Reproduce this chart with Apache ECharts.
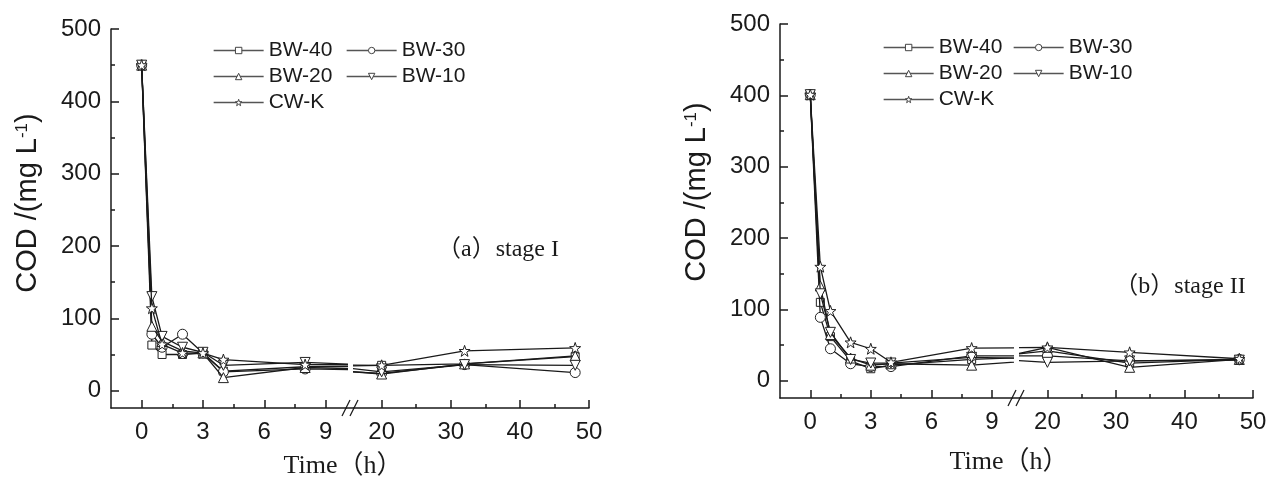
<!DOCTYPE html>
<html><head><meta charset="utf-8">
<script src="https://cdn.jsdelivr.net/npm/echarts@6/dist/echarts.min.js"></script>
<style>html,body{margin:0;padding:0;background:#fff}#c{width:1277px;height:485px}</style>
</head><body><div id="c"></div>
<script>
// ---------- data ----------
const times = [0, 0.5, 1, 2, 3, 4, 8, 20, 32, 48];
const seriesNames = ['BW-40', 'BW-30', 'BW-20', 'BW-10', 'CW-K'];
// stage I
const s1_BW40 = [450, 63, 50, 50, 52, 27, 33, 35, 37, 47];
const s1_BW30 = [450, 78, 60, 78, 52, 26, 30, 24, 36, 25];
const s1_BW20 = [450, 89, 68, 55, 52, 18, 32, 23, 37, 48];
const s1_BW10 = [450, 130, 75, 60, 53, 35, 39, 26, 36, 35];
const s1_CWK  = [450, 114, 64, 52, 52, 43, 36, 35, 55, 59];
// stage II
const s2_BW40 = [401, 110, 62, 28, 17, 22, 30, 42, 25, 30];
const s2_BW30 = [401, 89, 45, 24, 20, 20, 35, 35, 28, 30];
const s2_BW20 = [401, 133, 65, 32, 22, 24, 22, 47, 19, 30];
const s2_BW10 = [401, 122, 68, 30, 25, 25, 33, 26, 28, 29];
const s2_CWK  = [401, 160, 98, 54, 45, 26, 46, 47, 40, 31];
// ticks
const yMajor = [0, 100, 200, 300, 400, 500];
const yMinor = [50, 150, 250, 350, 450];
const xMajorL = [0, 3, 6, 9];
const xMinorL = [1.5, 4.5, 7.5];
const xMajorR = [20, 30, 40, 50];
const xMinorR = [25, 35, 45];

// ---------- layout ----------
const panels = [
  {left: 111, top: 29, bottom: 408, bL: 346, bR: 354, right: 589,
   data: [s1_BW40, s1_BW30, s1_BW20, s1_BW10, s1_CWK],
   ytitle: [28, 203], xtitle: [343, 466], note: [498, 250, '（a）stage I'],
   leg: [[213, 40], [346, 40]]},
  {left: 780, top: 24, bottom: 398, bL: 1012, bR: 1020, right: 1253,
   data: [s2_BW40, s2_BW30, s2_BW20, s2_BW10, s2_CWK],
   ytitle: [697, 192], xtitle: [1009, 462], note: [1180, 287, '（b）stage II'],
   leg: [[883, 37], [1013, 37]]}
];
const INK = '#1a1a1a';
const STAR = 'path://M0,-10 L2.35,-3.24 9.51,-3.09 3.8,1.24 5.88,8.09 0,4 -5.88,8.09 -3.8,1.24 -9.51,-3.09 -2.35,-3.24Z';
const symbols = [
  {symbol: 'rect', size: 8, rot: 0},
  {symbol: 'circle', size: 10, rot: 0},
  {symbol: 'triangle', size: 10, rot: 0},
  {symbol: 'triangle', size: 10, rot: 180},
  {symbol: STAR, size: 11, rot: 0}
];
const YMIN = -24, YMAX = 500;
const axisFont = {fontFamily: '"Liberation Sans", Arial, sans-serif', fontSize: 24, color: INK};

const grids = [], xAxes = [], yAxes = [], series = [], legends = [], graphics = [];

panels.forEach((p, pi) => {
  const h = p.bottom - p.top;
  const parts = [
    {l: p.left, w: p.bL - p.left, min: -1.5, max: 10, maj: xMajorL, min2: xMinorL, showY: true},
    {l: p.bR, w: p.right - p.bR, min: 16, max: 50, maj: xMajorR, min2: xMinorR, showY: false}
  ];
  parts.forEach(part => {
    const g = grids.length;
    grids.push({left: part.l, top: p.top, width: part.w, height: h, outerBoundsMode: 'none', containLabel: false});
    const xi = xAxes.length, yi = yAxes.length;
    xAxes.push({type: 'value', gridIndex: g, min: part.min, max: part.max, position: 'bottom',
      axisLine: {show: true, onZero: false, lineStyle: {color: INK, width: 1.5}},
      axisTick: {show: true, inside: true, length: 8, customValues: part.maj, lineStyle: {color: INK, width: 1.5}},
      axisLabel: {show: true, customValues: part.maj, margin: 12, ...axisFont},
      splitLine: {show: false}});
    xAxes.push({type: 'value', gridIndex: g, min: part.min, max: part.max, position: 'bottom',
      axisLine: {show: false, onZero: false},
      axisTick: {show: true, inside: true, length: 4, customValues: part.min2, lineStyle: {color: INK, width: 1.5}},
      axisLabel: {show: false}, splitLine: {show: false}});
    yAxes.push({type: 'value', gridIndex: g, min: YMIN, max: YMAX, show: part.showY, position: 'left',
      axisLine: {show: true, onZero: false, lineStyle: {color: INK, width: 1.5}},
      axisTick: {show: true, inside: true, length: 8, customValues: yMajor, lineStyle: {color: INK, width: 1.5}},
      axisLabel: {show: true, customValues: yMajor, margin: 10, ...axisFont},
      splitLine: {show: false}});
    yAxes.push({type: 'value', gridIndex: g, min: YMIN, max: YMAX, show: part.showY, position: 'left',
      axisLine: {show: false, onZero: false},
      axisTick: {show: true, inside: true, length: 4, customValues: yMinor, lineStyle: {color: INK, width: 1.5}},
      axisLabel: {show: false}, splitLine: {show: false}});
    seriesNames.forEach((name, si) => {
      const vals = p.data[si];
      series.push({
        name: name, type: 'line', xAxisIndex: xi, yAxisIndex: yi, clip: true,
        data: times.map((t, i) => [t, vals[i]]),
        symbol: symbols[si].symbol, symbolSize: symbols[si].size, symbolRotate: symbols[si].rot,
        showAllSymbol: true,
        lineStyle: {color: INK, width: 1.3},
        itemStyle: {color: '#ffffff', borderColor: '#222', borderWidth: 1},
        emphasis: {disabled: true}, z: 2 + si
      });
    });
  });
  // legends
  const legCols = [['BW-40', 'BW-20', 'CW-K'], ['BW-30', 'BW-10']];
  legCols.forEach((col, ci) => {
    legends.push({orient: 'vertical', left: p.leg[ci][0], top: p.leg[ci][1],
      data: col.map(n => ({name: n, itemStyle: {color: '#fff', borderColor: '#444', borderWidth: 1}})),
      itemWidth: 50, itemHeight: 8, itemGap: 5, padding: 0, selectedMode: false,
      lineStyle: {color: '#555', width: 1.3},
      textStyle: {fontFamily: '"Liberation Sans", Arial, sans-serif', fontSize: 21, color: INK, lineHeight: 21}});
  });
  // axis break
  const y0 = p.bottom, mid = (p.bL + p.bR) / 2;
  graphics.push({type: 'line', shape: {x1: p.bL, y1: y0, x2: p.bR, y2: y0}, style: {stroke: INK, lineWidth: 1.5}});
  [-4, 4].forEach(dx => {
    graphics.push({type: 'line', shape: {x1: mid + dx - 4, y1: y0 + 8, x2: mid + dx + 4, y2: y0 - 8}, style: {stroke: INK, lineWidth: 1.3}});
  });
  // titles
  graphics.push({type: 'text', x: p.ytitle[0], y: p.ytitle[1], rotation: Math.PI / 2,
    style: {text: 'COD /(mg L{sup|-1})', fill: INK, align: 'center', verticalAlign: 'middle',
      font: '29px "Liberation Sans", Arial, sans-serif',
      rich: {sup: {fontSize: 17, fontFamily: '"Liberation Sans", Arial, sans-serif', verticalAlign: 'top', padding: [0, 0, 12, 0], fill: INK}}}});
  graphics.push({type: 'text', x: p.xtitle[0], y: p.xtitle[1],
    style: {text: 'Time（h）', fill: INK, align: 'center', verticalAlign: 'middle',
      font: '26px "Liberation Serif", "Noto Sans CJK SC", serif'}});
  graphics.push({type: 'text', x: p.note[0], y: p.note[1],
    style: {text: p.note[2], fill: INK, align: 'center', verticalAlign: 'middle',
      font: '24px "Liberation Serif", "Noto Sans CJK SC", serif'}});
});

const chart = echarts.init(document.getElementById('c'), null, {renderer: 'canvas'});
chart.setOption({
  animation: false,
  backgroundColor: '#ffffff',
  grid: grids, xAxis: xAxes, yAxis: yAxes, series: series, legend: legends,
  graphic: {elements: graphics}
});
</script></body></html>
